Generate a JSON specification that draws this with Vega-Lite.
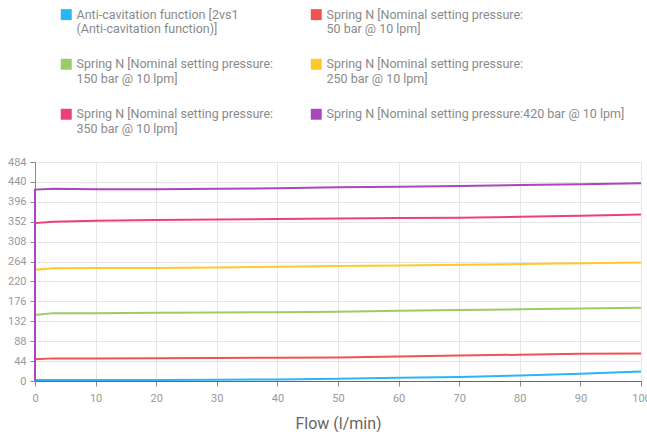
{
  "$schema": "https://vega.github.io/schema/vega-lite/v6.json",
  "width": 606,
  "height": 219,
  "autosize": {"type": "none"},
  "padding": {"left": 35, "top": 162, "right": 6, "bottom": 51},
  "config": {
    "font": "Roboto",
    "view": {"stroke": null},
    "axis": {
      "labelColor": "#999999",
      "labelFontSize": 11,
      "gridColor": "#e6e6e6",
      "tickColor": "#888888",
      "domainColor": "#888888",
      "titleColor": "#666666",
      "titleFontWeight": "normal",
      "labelFlush": false
    }
  },
  "datasets": {
    "curves": [
      {"series": "Anti-cavitation function [2vs1 (Anti-cavitation function)]", "flow": 0, "pressure": 0},
      {"series": "Anti-cavitation function [2vs1 (Anti-cavitation function)]", "flow": 0, "pressure": 2},
      {"series": "Anti-cavitation function [2vs1 (Anti-cavitation function)]", "flow": 3, "pressure": 2},
      {"series": "Anti-cavitation function [2vs1 (Anti-cavitation function)]", "flow": 10, "pressure": 2},
      {"series": "Anti-cavitation function [2vs1 (Anti-cavitation function)]", "flow": 20, "pressure": 2},
      {"series": "Anti-cavitation function [2vs1 (Anti-cavitation function)]", "flow": 30, "pressure": 2.5},
      {"series": "Anti-cavitation function [2vs1 (Anti-cavitation function)]", "flow": 40, "pressure": 3.5},
      {"series": "Anti-cavitation function [2vs1 (Anti-cavitation function)]", "flow": 50, "pressure": 5},
      {"series": "Anti-cavitation function [2vs1 (Anti-cavitation function)]", "flow": 60, "pressure": 7},
      {"series": "Anti-cavitation function [2vs1 (Anti-cavitation function)]", "flow": 70, "pressure": 9},
      {"series": "Anti-cavitation function [2vs1 (Anti-cavitation function)]", "flow": 80, "pressure": 12},
      {"series": "Anti-cavitation function [2vs1 (Anti-cavitation function)]", "flow": 90, "pressure": 16},
      {"series": "Anti-cavitation function [2vs1 (Anti-cavitation function)]", "flow": 100, "pressure": 21},
      {"series": "Spring N [Nominal setting pressure: 50 bar @ 10 lpm]", "flow": 0, "pressure": 0},
      {"series": "Spring N [Nominal setting pressure: 50 bar @ 10 lpm]", "flow": 0, "pressure": 48},
      {"series": "Spring N [Nominal setting pressure: 50 bar @ 10 lpm]", "flow": 3, "pressure": 50},
      {"series": "Spring N [Nominal setting pressure: 50 bar @ 10 lpm]", "flow": 10, "pressure": 50},
      {"series": "Spring N [Nominal setting pressure: 50 bar @ 10 lpm]", "flow": 20, "pressure": 50.5},
      {"series": "Spring N [Nominal setting pressure: 50 bar @ 10 lpm]", "flow": 30, "pressure": 51},
      {"series": "Spring N [Nominal setting pressure: 50 bar @ 10 lpm]", "flow": 40, "pressure": 51.5},
      {"series": "Spring N [Nominal setting pressure: 50 bar @ 10 lpm]", "flow": 50, "pressure": 52},
      {"series": "Spring N [Nominal setting pressure: 50 bar @ 10 lpm]", "flow": 60, "pressure": 54},
      {"series": "Spring N [Nominal setting pressure: 50 bar @ 10 lpm]", "flow": 70, "pressure": 56.5},
      {"series": "Spring N [Nominal setting pressure: 50 bar @ 10 lpm]", "flow": 80, "pressure": 58},
      {"series": "Spring N [Nominal setting pressure: 50 bar @ 10 lpm]", "flow": 90, "pressure": 60},
      {"series": "Spring N [Nominal setting pressure: 50 bar @ 10 lpm]", "flow": 100, "pressure": 61},
      {"series": "Spring N [Nominal setting pressure: 150 bar @ 10 lpm]", "flow": 0, "pressure": 0},
      {"series": "Spring N [Nominal setting pressure: 150 bar @ 10 lpm]", "flow": 0, "pressure": 146},
      {"series": "Spring N [Nominal setting pressure: 150 bar @ 10 lpm]", "flow": 3, "pressure": 150},
      {"series": "Spring N [Nominal setting pressure: 150 bar @ 10 lpm]", "flow": 10, "pressure": 150},
      {"series": "Spring N [Nominal setting pressure: 150 bar @ 10 lpm]", "flow": 20, "pressure": 151},
      {"series": "Spring N [Nominal setting pressure: 150 bar @ 10 lpm]", "flow": 30, "pressure": 151.5},
      {"series": "Spring N [Nominal setting pressure: 150 bar @ 10 lpm]", "flow": 40, "pressure": 152},
      {"series": "Spring N [Nominal setting pressure: 150 bar @ 10 lpm]", "flow": 50, "pressure": 153},
      {"series": "Spring N [Nominal setting pressure: 150 bar @ 10 lpm]", "flow": 60, "pressure": 155},
      {"series": "Spring N [Nominal setting pressure: 150 bar @ 10 lpm]", "flow": 70, "pressure": 157},
      {"series": "Spring N [Nominal setting pressure: 150 bar @ 10 lpm]", "flow": 80, "pressure": 158.5},
      {"series": "Spring N [Nominal setting pressure: 150 bar @ 10 lpm]", "flow": 90, "pressure": 160},
      {"series": "Spring N [Nominal setting pressure: 150 bar @ 10 lpm]", "flow": 100, "pressure": 162},
      {"series": "Spring N [Nominal setting pressure: 250 bar @ 10 lpm]", "flow": 0, "pressure": 0},
      {"series": "Spring N [Nominal setting pressure: 250 bar @ 10 lpm]", "flow": 0, "pressure": 246},
      {"series": "Spring N [Nominal setting pressure: 250 bar @ 10 lpm]", "flow": 3, "pressure": 249},
      {"series": "Spring N [Nominal setting pressure: 250 bar @ 10 lpm]", "flow": 10, "pressure": 249.5},
      {"series": "Spring N [Nominal setting pressure: 250 bar @ 10 lpm]", "flow": 20, "pressure": 250},
      {"series": "Spring N [Nominal setting pressure: 250 bar @ 10 lpm]", "flow": 30, "pressure": 251},
      {"series": "Spring N [Nominal setting pressure: 250 bar @ 10 lpm]", "flow": 40, "pressure": 252.5},
      {"series": "Spring N [Nominal setting pressure: 250 bar @ 10 lpm]", "flow": 50, "pressure": 254},
      {"series": "Spring N [Nominal setting pressure: 250 bar @ 10 lpm]", "flow": 60, "pressure": 255.5},
      {"series": "Spring N [Nominal setting pressure: 250 bar @ 10 lpm]", "flow": 70, "pressure": 257},
      {"series": "Spring N [Nominal setting pressure: 250 bar @ 10 lpm]", "flow": 80, "pressure": 258.5},
      {"series": "Spring N [Nominal setting pressure: 250 bar @ 10 lpm]", "flow": 90, "pressure": 260},
      {"series": "Spring N [Nominal setting pressure: 250 bar @ 10 lpm]", "flow": 100, "pressure": 262},
      {"series": "Spring N [Nominal setting pressure: 350 bar @ 10 lpm]", "flow": 0, "pressure": 0},
      {"series": "Spring N [Nominal setting pressure: 350 bar @ 10 lpm]", "flow": 0, "pressure": 349},
      {"series": "Spring N [Nominal setting pressure: 350 bar @ 10 lpm]", "flow": 3, "pressure": 352},
      {"series": "Spring N [Nominal setting pressure: 350 bar @ 10 lpm]", "flow": 10, "pressure": 354},
      {"series": "Spring N [Nominal setting pressure: 350 bar @ 10 lpm]", "flow": 20, "pressure": 356},
      {"series": "Spring N [Nominal setting pressure: 350 bar @ 10 lpm]", "flow": 30, "pressure": 357},
      {"series": "Spring N [Nominal setting pressure: 350 bar @ 10 lpm]", "flow": 40, "pressure": 358},
      {"series": "Spring N [Nominal setting pressure: 350 bar @ 10 lpm]", "flow": 50, "pressure": 359},
      {"series": "Spring N [Nominal setting pressure: 350 bar @ 10 lpm]", "flow": 60, "pressure": 360},
      {"series": "Spring N [Nominal setting pressure: 350 bar @ 10 lpm]", "flow": 70, "pressure": 361},
      {"series": "Spring N [Nominal setting pressure: 350 bar @ 10 lpm]", "flow": 80, "pressure": 363},
      {"series": "Spring N [Nominal setting pressure: 350 bar @ 10 lpm]", "flow": 90, "pressure": 365},
      {"series": "Spring N [Nominal setting pressure: 350 bar @ 10 lpm]", "flow": 100, "pressure": 368},
      {"series": "Spring N [Nominal setting pressure:420 bar @ 10 lpm]", "flow": 0, "pressure": 0},
      {"series": "Spring N [Nominal setting pressure:420 bar @ 10 lpm]", "flow": 0, "pressure": 423},
      {"series": "Spring N [Nominal setting pressure:420 bar @ 10 lpm]", "flow": 3, "pressure": 425},
      {"series": "Spring N [Nominal setting pressure:420 bar @ 10 lpm]", "flow": 10, "pressure": 424},
      {"series": "Spring N [Nominal setting pressure:420 bar @ 10 lpm]", "flow": 20, "pressure": 424},
      {"series": "Spring N [Nominal setting pressure:420 bar @ 10 lpm]", "flow": 30, "pressure": 425},
      {"series": "Spring N [Nominal setting pressure:420 bar @ 10 lpm]", "flow": 40, "pressure": 426},
      {"series": "Spring N [Nominal setting pressure:420 bar @ 10 lpm]", "flow": 50, "pressure": 428},
      {"series": "Spring N [Nominal setting pressure:420 bar @ 10 lpm]", "flow": 60, "pressure": 429.5},
      {"series": "Spring N [Nominal setting pressure:420 bar @ 10 lpm]", "flow": 70, "pressure": 431},
      {"series": "Spring N [Nominal setting pressure:420 bar @ 10 lpm]", "flow": 80, "pressure": 433},
      {"series": "Spring N [Nominal setting pressure:420 bar @ 10 lpm]", "flow": 90, "pressure": 435},
      {"series": "Spring N [Nominal setting pressure:420 bar @ 10 lpm]", "flow": 100, "pressure": 437}
    ]
  },
  "data": {"name": "curves"},
  "mark": {"type": "line", "strokeWidth": 2, "interpolate": "linear"},
  "encoding": {
    "x": {
      "field": "flow", "type": "quantitative",
      "scale": {"domain": [0, 100], "nice": false},
      "axis": {"values": [0, 10, 20, 30, 40, 50, 60, 70, 80, 90, 100], "title": "Flow (l/min)", "titleFontSize": 16, "titlePadding": 12, "domainColor": "#666666", "labelPadding": 6, "labelFlush": false, "labelOverlap": false}
    },
    "y": {
      "field": "pressure", "type": "quantitative",
      "scale": {"domain": [0, 484], "nice": false},
      "axis": {"values": [0, 44, 88, 132, 176, 220, 264, 308, 352, 396, 440, 484], "title": null, "labelPadding": 4, "labelFlush": false}
    },
    "color": {
      "field": "series", "type": "nominal",
      "scale": {
        "domain": [
          "Anti-cavitation function [2vs1 (Anti-cavitation function)]",
          "Spring N [Nominal setting pressure: 50 bar @ 10 lpm]",
          "Spring N [Nominal setting pressure: 150 bar @ 10 lpm]",
          "Spring N [Nominal setting pressure: 250 bar @ 10 lpm]",
          "Spring N [Nominal setting pressure: 350 bar @ 10 lpm]",
          "Spring N [Nominal setting pressure:420 bar @ 10 lpm]"
        ],
        "range": ["#29b6f6", "#ef5350", "#9ccc65", "#ffca28", "#ec407a", "#ab47bc"]
      },
      "legend": {
        "orient": "none",
        "legendX": 25,
        "legendY": -154,
        "columns": 2,
        "direction": "horizontal",
        "title": null,
        "symbolType": "square",
        "symbolSize": 120,
        "symbolStrokeWidth": 0,
        "labelFontSize": 12.5,
        "labelColor": "#8a8a8a",
        "labelLimit": 400,
        "columnPadding": 36,
        "rowPadding": 22,
        "labelExpr": "indexof(datum.label, 'Anti') == 0 ? ['Anti-cavitation function [2vs1', '(Anti-cavitation function)]'] : indexof(datum.label, ': ') > 0 ? [slice(datum.label, 0, indexof(datum.label, ': ') + 1), slice(datum.label, indexof(datum.label, ': ') + 2)] : datum.label",
        "encode": {"symbols": {"update": {"fill": {"scale": "color", "field": "value"}, "fillOpacity": {"value": 1}}}}
      }
    }
  }
}
